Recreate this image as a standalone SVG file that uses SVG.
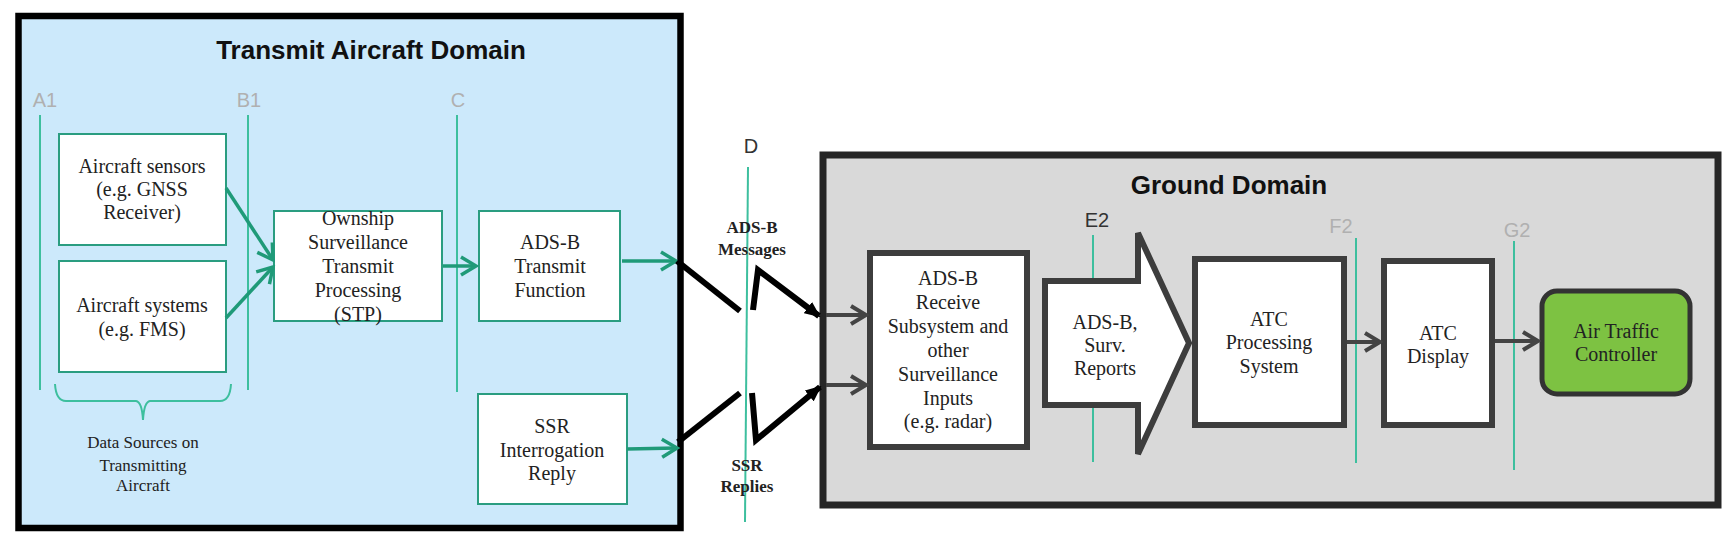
<svg xmlns="http://www.w3.org/2000/svg" width="1731" height="547" viewBox="0 0 1731 547">
<style>
.serif{font-family:"Liberation Serif","Times New Roman",serif;fill:#222;text-anchor:middle}
.box{font-size:20px}
.small{font-size:17px}
.bold{font-weight:bold}
.title{font-family:"Liberation Sans",Arial,sans-serif;font-weight:bold;font-size:26px;fill:#111;text-anchor:middle}
.ref{font-family:"Liberation Sans",Arial,sans-serif;font-size:20px;text-anchor:middle}
.refl{fill:#b0b0b0}
.refd{fill:#333}
.vline{stroke:#3dbf9e;stroke-width:2;fill:none}
.gbox{fill:#fff;stroke:#2a9d80;stroke-width:2}
.dbox{fill:#fff;stroke:#3d3d3d;stroke-width:6}
.garr{stroke:#1f9a78;stroke-width:3.5;fill:none;marker-end:url(#gch)}
.karr{stroke:#444;stroke-width:4;fill:none;marker-end:url(#kch)}
.bolt{stroke:#000;stroke-width:6;fill:none;stroke-linejoin:miter}
</style>
<defs>
<marker id="gch" markerUnits="userSpaceOnUse" markerWidth="20" markerHeight="22" viewBox="0 0 20 22" refX="17" refY="11" orient="auto">
<path d="M2,2 L17,11 L2,20" fill="none" stroke="#1f9a78" stroke-width="3.5"/>
</marker>
<marker id="kch" markerUnits="userSpaceOnUse" markerWidth="20" markerHeight="22" viewBox="0 0 20 22" refX="17" refY="11" orient="auto">
<path d="M2,2 L17,11 L2,20" fill="none" stroke="#444" stroke-width="4"/>
</marker>
<marker id="bah" markerUnits="userSpaceOnUse" markerWidth="16" markerHeight="14" viewBox="0 0 16 14" refX="14" refY="7" orient="auto">
<path d="M0,0 L16,7 L0,14 Z" fill="#000"/>
</marker>
</defs>

<g id="transmit-domain">
<rect x="18.5" y="16" width="662" height="512" fill="#cce9fb" stroke="#000" stroke-width="6.5"/>
<text class="title" x="371" y="59">Transmit Aircraft Domain</text>
</g>

<g id="ground-domain">
<rect x="823" y="155" width="895" height="350" fill="#d9d9d9" stroke="#262626" stroke-width="7"/>
<text class="title" x="1229" y="194">Ground Domain</text>
</g>

<g id="reference-points">
<text class="ref refl" x="45" y="107">A1</text>
<line class="vline" x1="40" y1="115" x2="40" y2="390"/>
<text class="ref refl" x="249" y="107">B1</text>
<line class="vline" x1="248" y1="115" x2="248" y2="390"/>
<text class="ref refl" x="458" y="107">C</text>
<line class="vline" x1="457" y1="115" x2="457" y2="392"/>
<text class="ref refd" x="751" y="153">D</text>
<line class="vline" x1="748" y1="167" x2="745" y2="522"/>
<text class="ref refd" x="1097" y="227">E2</text>
<line class="vline" x1="1093" y1="235" x2="1093" y2="462"/>
<text class="ref refl" x="1341" y="233">F2</text>
<line class="vline" x1="1356" y1="238" x2="1356" y2="463"/>
<text class="ref refl" x="1517" y="237">G2</text>
<line class="vline" x1="1514" y1="241" x2="1514" y2="470"/>
</g>

<g id="aircraft-sensors">
<rect class="gbox" x="59" y="134" width="167" height="111"/>
<text class="serif box" x="142" y="173">Aircraft sensors</text>
<text class="serif box" x="142" y="196">(e.g. GNSS</text>
<text class="serif box" x="142" y="219">Receiver)</text>
</g>

<g id="aircraft-systems">
<rect class="gbox" x="59" y="261" width="167" height="111"/>
<text class="serif box" x="142" y="312">Aircraft systems</text>
<text class="serif box" x="142" y="336">(e.g. FMS)</text>
</g>

<g id="data-sources">
<path d="M55,384 Q56,401 66,401 L136,401 Q142,402 143,420 Q144,402 150,401 L220,401 Q230,401 231,384" fill="none" stroke="#3dbf9e" stroke-width="2"/>
<text class="serif small" x="143" y="448" fill="#1f2a3a">Data Sources on</text>
<text class="serif small" x="143" y="471">Transmitting</text>
<text class="serif small" x="143" y="491">Aircraft</text>
</g>

<g id="stp">
<rect class="gbox" x="274" y="211" width="168" height="110"/>
<text class="serif box" x="358" y="225">Ownship</text>
<text class="serif box" x="358" y="249">Surveillance</text>
<text class="serif box" x="358" y="273">Transmit</text>
<text class="serif box" x="358" y="297">Processing</text>
<text class="serif box" x="358" y="321">(STP)</text>
</g>

<g id="adsb-transmit">
<rect class="gbox" x="479" y="211" width="141" height="110"/>
<text class="serif box" x="550" y="249">ADS-B</text>
<text class="serif box" x="550" y="273">Transmit</text>
<text class="serif box" x="550" y="297">Function</text>
</g>

<g id="ssr-reply">
<rect class="gbox" x="478" y="394" width="149" height="110"/>
<text class="serif box" x="552" y="433">SSR</text>
<text class="serif box" x="552" y="457">Interrogation</text>
<text class="serif box" x="552" y="480">Reply</text>
</g>

<g id="link-labels">
<text class="serif small bold" x="752" y="233" fill="#2d2d2d">ADS-B</text>
<text class="serif small bold" x="752" y="255" fill="#2d2d2d">Messages</text>
<text class="serif small bold" x="747" y="471" fill="#2d2d2d">SSR</text>
<text class="serif small bold" x="747" y="492" fill="#2d2d2d">Replies</text>
</g>

<g id="adsb-receive">
<rect class="dbox" x="870" y="253" width="157" height="194"/>
<text class="serif box" x="948" y="285">ADS-B</text>
<text class="serif box" x="948" y="309">Receive</text>
<text class="serif box" x="948" y="333">Subsystem and</text>
<text class="serif box" x="948" y="357">other</text>
<text class="serif box" x="948" y="381">Surveillance</text>
<text class="serif box" x="948" y="405">Inputs</text>
<text class="serif box" x="948" y="428">(e.g. radar)</text>
</g>

<g id="surv-reports">
<path d="M1045,281 H1138 V233 L1189,343 L1138,454 V405 H1045 Z" fill="#fff" stroke="#3d3d3d" stroke-width="6"/>
<text class="serif box" x="1105" y="329">ADS-B,</text>
<text class="serif box" x="1105" y="352">Surv.</text>
<text class="serif box" x="1105" y="375">Reports</text>
</g>

<g id="atc-processing">
<rect class="dbox" x="1195" y="259" width="149" height="166"/>
<text class="serif box" x="1269" y="326">ATC</text>
<text class="serif box" x="1269" y="349">Processing</text>
<text class="serif box" x="1269" y="373">System</text>
</g>

<g id="atc-display">
<rect class="dbox" x="1384" y="261" width="108" height="164"/>
<text class="serif box" x="1438" y="340">ATC</text>
<text class="serif box" x="1438" y="363">Display</text>
</g>

<g id="air-traffic-controller">
<rect x="1542" y="291" width="148" height="103" rx="15" fill="#7dc242" stroke="#333" stroke-width="5"/>
<text class="serif box" x="1616" y="338">Air Traffic</text>
<text class="serif box" x="1616" y="361">Controller</text>
</g>

<g id="connectors">
<line class="garr" x1="226" y1="188" x2="273" y2="260"/>
<line class="garr" x1="226" y1="318" x2="273" y2="267"/>
<line class="garr" x1="443" y1="266" x2="476" y2="266"/>
<line class="garr" x1="622" y1="261" x2="676" y2="261"/>
<line class="garr" x1="627" y1="449" x2="677" y2="448"/>
<path class="bolt" d="M677,261 L740,311"/>
<path class="bolt" d="M753,310 L758,270 L819,316" marker-end="url(#bah)"/>
<path class="bolt" d="M678,442 L740,393"/>
<path class="bolt" d="M752,393 L756,440 L820,387" marker-end="url(#bah)"/>
<line class="karr" x1="826" y1="315" x2="866" y2="315"/>
<line class="karr" x1="826" y1="385" x2="866" y2="385"/>
<line class="karr" x1="1347" y1="342" x2="1380" y2="342"/>
<line class="karr" x1="1495" y1="341" x2="1538" y2="341"/>
</g>
</svg>
